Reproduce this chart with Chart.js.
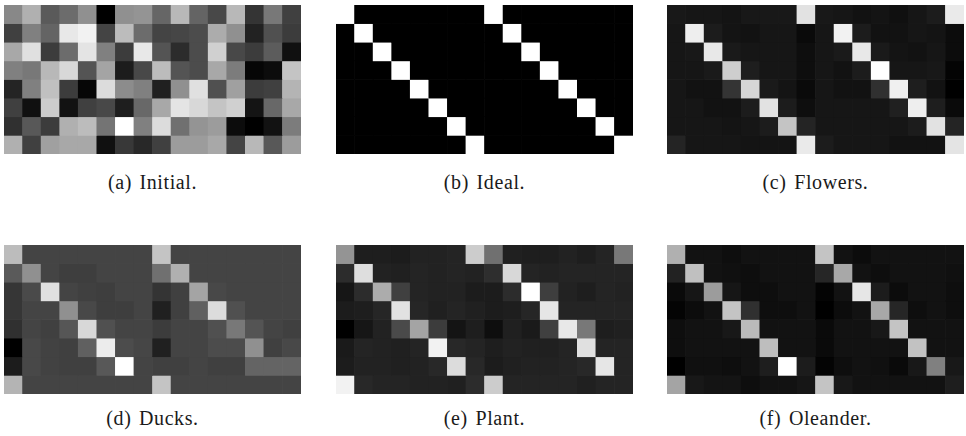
<!DOCTYPE html>
<html>
<head>
<meta charset="utf-8">
<script src="https://cdn.jsdelivr.net/npm/chart.js@4"></script>
<style>
  body { margin: 0; background: #fff; width: 966px; height: 436px; position: relative; overflow: hidden; }
  .panel { position: absolute; width: 297px; height: 149px; }
  .cap { position: absolute; width: 297px; text-align: center;
         font-family: "Liberation Serif", "DejaVu Serif", "Times New Roman", Times, serif;
         font-size: 20px; line-height: 20px; letter-spacing: 0.6px; word-spacing: 2px; color: #1a1a1a; }
</style>
</head>
<body>
<div class="panel" style="left:4px;top:5px"><canvas id="initialChart"></canvas></div>
<div class="panel" style="left:336px;top:5px"><canvas id="idealChart"></canvas></div>
<div class="panel" style="left:667px;top:5px"><canvas id="flowersChart"></canvas></div>
<div class="panel" style="left:4px;top:245px"><canvas id="ducksChart"></canvas></div>
<div class="panel" style="left:336px;top:245px"><canvas id="plantChart"></canvas></div>
<div class="panel" style="left:667px;top:245px"><canvas id="oleanderChart"></canvas></div>

<div class="cap" style="left:4px;top:172px">(a) Initial.</div>
<div class="cap" style="left:336px;top:172px">(b) Ideal.</div>
<div class="cap" style="left:667px;top:172px">(c) Flowers.</div>
<div class="cap" style="left:4px;top:408px">(d) Ducks.</div>
<div class="cap" style="left:336px;top:408px">(e) Plant.</div>
<div class="cap" style="left:667px;top:408px">(f) Oleander.</div>

<script>
// columns of every matrix
const columns = ['1','2','3','4','5','6','7','8','9','10','11','12','13','14','15','16'];

// gray levels (0 = black, 255 = white), one row per line, top row first
const initial = [
  [136,176,90,108,144,0,144,148,102,184,100,72,184,52,120,64],
  [64,128,100,232,242,68,188,108,68,70,76,172,144,34,80,60],
  [168,224,60,108,228,128,60,232,84,44,76,208,72,60,92,16],
  [128,120,184,216,84,164,28,72,188,84,76,168,124,6,12,196],
  [36,128,192,60,6,220,140,128,32,144,224,80,160,60,64,180],
  [64,16,204,18,64,72,30,104,168,228,216,196,208,20,104,168],
  [48,88,60,176,188,116,255,128,220,112,148,156,12,0,18,124],
  [176,64,160,168,168,16,56,40,64,156,156,168,68,184,88,156]
];

const ideal = [
  [255,0,0,0,0,0,0,0,255,0,0,0,0,0,0,0],
  [0,255,0,0,0,0,0,0,0,255,0,0,0,0,0,0],
  [0,0,255,0,0,0,0,0,0,0,255,0,0,0,0,0],
  [0,0,0,255,0,0,0,0,0,0,0,255,0,0,0,0],
  [0,0,0,0,255,0,0,0,0,0,0,0,255,0,0,0],
  [0,0,0,0,0,255,0,0,0,0,0,0,0,255,0,0],
  [0,0,0,0,0,0,255,0,0,0,0,0,0,0,255,0],
  [0,0,0,0,0,0,0,255,0,0,0,0,0,0,0,255]
];

const flowers = [
  [24,22,22,20,24,24,24,226,24,22,18,20,16,22,28,234],
  [22,238,28,20,18,22,22,10,22,242,28,18,18,22,20,12],
  [22,24,232,26,22,22,22,14,22,26,232,26,20,18,22,12],
  [22,22,26,206,30,22,22,14,22,18,28,255,22,22,24,4],
  [22,18,18,52,214,26,20,10,22,18,18,48,240,30,18,0],
  [22,22,18,18,28,226,28,14,22,22,22,22,32,238,30,10],
  [22,22,22,20,22,28,196,36,22,22,22,22,22,28,226,36],
  [36,22,22,22,20,20,20,234,28,22,22,22,18,18,18,228]
];

const ducks = [
  [188,68,68,68,68,68,68,68,196,68,68,68,68,68,68,68],
  [90,144,68,62,62,68,68,68,112,176,68,68,68,68,68,68],
  [54,74,224,68,64,62,68,68,52,64,164,72,68,68,68,68],
  [54,68,68,144,72,62,62,68,32,64,96,220,80,68,68,68],
  [48,68,64,86,216,80,68,68,60,68,68,80,120,84,68,64],
  [0,72,66,64,96,236,76,70,32,68,68,76,76,144,64,72],
  [28,72,66,64,64,88,255,68,64,64,68,64,64,100,100,100],
  [180,68,68,68,68,68,68,68,196,68,68,68,68,68,68,68]
];

const plant = [
  [148,30,30,28,34,34,36,204,112,32,30,30,34,30,36,120],
  [44,222,34,32,36,34,36,34,46,216,36,34,36,36,36,36],
  [22,44,172,64,36,34,34,28,28,44,255,62,34,30,36,34],
  [28,30,38,226,38,32,36,32,28,30,38,230,36,36,36,36],
  [0,22,34,74,164,60,20,30,14,32,26,64,232,120,30,32],
  [26,36,34,32,36,242,40,36,30,34,32,32,36,224,36,36],
  [28,34,34,32,34,40,220,40,28,32,34,34,36,40,230,36],
  [242,40,36,36,34,34,32,44,204,36,36,36,36,32,36,36]
];

const oleander = [
  [176,18,18,14,18,18,18,18,196,18,12,18,18,18,18,18],
  [34,192,18,16,14,18,18,18,38,168,18,14,18,18,18,16],
  [10,22,156,22,14,14,18,18,4,18,230,28,12,18,18,14],
  [4,12,18,196,48,14,14,18,0,12,18,168,38,14,18,14],
  [14,18,18,24,186,18,18,18,10,18,18,24,196,18,18,18],
  [14,18,18,18,18,190,18,18,10,18,18,18,18,194,18,18],
  [0,16,16,14,18,30,255,28,4,14,18,16,10,24,128,24],
  [164,24,20,20,14,18,18,22,196,24,18,18,18,18,18,30]
];

function gray(v) {
  return 'rgb(' + v + ',' + v + ',' + v + ')';
}

// each row of the matrix is one stacked bar dataset, every cell one unit tall
function heatmap(id, grid) {
  const datasets = grid.map(row => ({
    data: row.map(() => 1),
    backgroundColor: row.map(gray),
    borderWidth: 0,
    categoryPercentage: 1,
    barPercentage: 1
  }));
  return new Chart(document.getElementById(id), {
    type: 'bar',
    data: { labels: columns, datasets: datasets },
    options: {
      responsive: true,
      maintainAspectRatio: false,
      animation: false,
      layout: { padding: 0 },
      plugins: { legend: { display: false }, tooltip: { enabled: false } },
      scales: {
        x: { stacked: true, display: false, offset: true },
        y: { stacked: true, display: false, reverse: true, min: 0, max: grid.length }
      }
    }
  });
}

heatmap('initialChart', initial);
heatmap('idealChart', ideal);
heatmap('flowersChart', flowers);
heatmap('ducksChart', ducks);
heatmap('plantChart', plant);
heatmap('oleanderChart', oleander);
</script>
</body>
</html>
